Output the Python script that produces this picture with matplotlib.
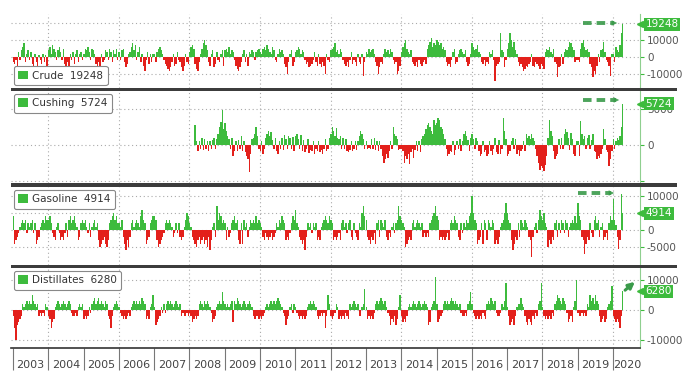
import matplotlib
matplotlib.use('Agg')
import matplotlib.pyplot as plt
from matplotlib.patches import Patch, Rectangle, FancyArrowPatch
from matplotlib.lines import Line2D
import matplotlib.transforms as mtransforms
import numpy as np

nan = np.nan

# weekly stock changes (kbbl / 1000), read every second week, one row per year
crude = [
    -3, -4, -2, -5, 3, -2, 4, 6, 8, -3, 2, 4, -2, 3, -4, -6, 2, -3, -5, 1, -2, -4, 2, -3, 1, -5,  # 2003
    4, 6, 2, 7, 5, 3, -2, 4, 6, 3, -2, 5, -4, -6, -3, -5, 2, -2, 3, -4, 2, 4, -3, 2, 3, -2,  # 2004
    2, 5, 4, 6, 3, -2, 5, 4, 2, -4, -5, -3, -6, 2, -3, -2, 4, 3, -2, 5, 3, -3, 4, 2, 5, -2,  # 2005
    3, -2, 4, 5, -3, -6, -4, 2, 3, 6, 8, 4, 7, -2, 3, 6, -3, 2, -5, -8, -2, 3, -4, 2, -3, 2,  # 2006
    2, -3, 3, 5, 6, 4, 2, -2, -4, -5, -7, -8, -6, -3, 2, -5, -4, 3, -2, -3, -6, -8, -5, 2, -3, -4,  # 2007
    3, 6, 7, 5, -4, -7, -8, -3, 2, 5, 8, 10, 7, 4, -3, -5, 2, 4, -6, -4, 3, -2, -3, 2, 4, -5,  # 2008
    4, 5, 3, 6, 2, 4, 3, -2, -5, -7, -8, -6, -3, 2, 4, -3, 2, -5, 3, 2, 4, 3, -2, 3, 4, 5,  # 2009
    3, 2, 5, 6, 4, 7, 5, 3, 2, 6, 4, -2, -3, 2, 5, 3, 4, 2, -4, -6, -10, -3, 2, 4, -5, -3,  # 2010
    3, 4, 6, 5, 2, 4, 3, -2, -4, -3, -6, -5, -4, -2, 3, -3, -5, 2, -4, -6, -3, -5, -10, 2, -2, -3,  # 2011
    4, 5, 6, 8, 3, 4, 2, 5, 3, -2, -4, -5, -3, -6, -2, 3, -4, -2, -3, -5, 2, -3, -4, 2, -11, -3,  # 2012
    3, 2, 5, 3, 4, 5, 2, -3, -5, -10, -6, -3, -4, 2, 5, 3, 4, 2, 5, 3, -2, -4, -3, -10, -8, -5,  # 2013
    3, 6, 8, 10, 5, 3, 2, 4, -3, -4, -5, -3, -6, -2, -4, -5, -3, -2, -4, 5, 7, 9, 11, 6, 8, 7,  # 2014
    10, 9, 7, 8, 5, 6, 4, -3, -5, -4, -6, -2, 3, 5, -4, -3, 2, 4, 5, 3, 2, 4, -3, -5, -4, 2,  # 2015
    8, 6, 4, 5, 7, 3, 2, -3, -4, -2, -5, -3, -4, 3, 2, 4, -2, -14, -5, -4, -3, 14, 4, 3, -6, -2,  # 2016
    5, 8, 14, 10, 6, 9, 4, 2, -3, -5, -4, -6, -8, -7, -5, -6, -4, -3, 2, -5, -6, -3, -4, -5, -7, -4,  # 2017
    -5, -7, 3, 5, 4, 6, 3, 2, 5, -3, -4, -12, -6, -5, 2, -4, 3, 5, 4, 6, 9, 8, 6, 4, -3, -2,  # 2018
    -2, -3, 5, 8, 10, 6, 4, 5, 3, -4, -6, -12, -8, -10, -5, 2, -3, 4, 5, 9, 3, -2, -3, -5, -11, 2,  # 2019
    2, -3, 6, 4, 3, 7, 14, 19.248,  # 2020
]

cushing = [
    nan, nan, nan, nan, 2.8, 0.5, -0.8, 0.6, -0.5, 1.0, -0.7, 0.8, -0.6, 0.5, -0.8, 0.6, -0.5, 0.7, 1.0, -0.6, 0.8, 1.5, 2.5, 3.2, 4.9, 2.2,  # 2008
    3.0, 2.0, 1.2, 0.8, -0.5, 0.9, -1.5, -0.8, 0.6, -0.9, 0.7, -0.6, 1.2, -0.8, 0.5, -1.0, -1.5, -2.0, -3.7, -1.2, 0.8, 1.0, 1.5, 2.5, 1.2, -0.6,  # 2009
    -0.8, 0.6, -1.2, -0.5, 0.9, 1.5, 2.0, 1.2, 1.8, 0.7, -0.6, 0.9, -0.8, -1.2, 0.6, -0.5, 1.0, -0.7, 1.4, 0.8, -0.6, 1.2, 0.9, -0.5, 1.1, -0.8,  # 2010
    1.2, 1.5, 0.8, -0.6, 1.4, -0.9, 0.7, -1.0, -0.6, 0.8, -1.1, -0.7, -0.9, 0.5, -1.2, -0.6, -0.8, 0.6, -1.0, -0.7, -1.2, -0.5, 0.8, -0.9, -0.6, 1.0,  # 2011
    1.5, 2.5, 2.0, 1.2, 2.3, 1.0, 0.8, 1.2, -0.5, 1.0, -0.6, 0.8, -0.9, -1.0, -0.7, 0.6, -0.8, -0.5, 0.6, -0.7, 0.5, 1.2, 2.0, 1.5, 0.8, -0.5,  # 2012
    0.6, -0.5, -0.4, -0.6, 0.8, -0.5, 0.9, -0.7, 0.6, -0.8, 0.5, -0.6, -1.5, -2.5, -2.0, -1.2, -1.8, -0.8, 0.6, -0.5, 2.5, 1.5, 1.2, 0.8, -0.7, -0.5,  # 2013
    -0.6, -0.8, -2.5, -1.5, -2.0, -1.2, -2.6, -1.0, -0.5, -1.8, -0.7, 0.5, -0.8, 0.6, -1.0, 0.8, 1.2, 1.5, 2.2, 2.8, 3.0, 2.5, 2.0, 1.5, 3.5, 2.8,  # 2014
    3.0, 3.8, 3.5, 2.5, 2.2, 1.5, 0.8, -0.5, -1.5, -1.2, -0.8, -1.0, 0.6, -1.4, -0.7, 0.5, -0.6, 0.8, -0.9, 0.6, 1.5, 2.0, 1.2, 0.7, -0.8, 1.0,  # 2015
    1.5, 0.8, -0.6, 1.0, 0.5, -0.8, -1.5, -1.2, 0.6, -1.0, -0.7, -1.5, -1.2, 0.5, -0.8, -1.4, -0.6, 0.9, -1.0, -1.3, 0.7, -1.2, -0.6, 3.8, 2.0, 0.8,  # 2016
    -1.5, -1.2, -0.8, 0.6, 0.9, -0.5, 0.8, -1.2, -0.7, -1.5, -0.9, -0.6, 0.5, -0.8, 1.5, 1.0, 1.2, 0.8, 1.5, 1.0, 0.6, -0.5, -1.5, -2.5, -3.5, -3.0,  # 2017
    -3.2, -3.6, -2.8, -1.5, 1.0, 3.5, 2.0, 1.2, -0.8, -2.0, -1.6, -1.2, 0.8, -0.6, 1.0, -0.5, 1.5, 2.2, 1.8, 0.9, -0.7, 1.6, 0.8, -1.2, -1.5, 0.6,  # 2018
    0.6, -1.5, 3.3, 1.5, 0.8, 1.2, -0.5, 0.9, 1.4, -0.6, 0.7, 1.5, -0.8, -1.0, -2.0, -1.5, -1.8, -1.2, -0.6, 2.2, 0.8, -0.7, -1.0, -3.0, -2.0, -0.8,  # 2019
    0.8, -0.5, 0.6, 1.0, 0.7, 1.2, 2.5, 5.724,  # 2020
]

gasoline = [
    4, -4, -3, -2, -1, 1, 2, 3, 2, 3, -1, 2, 1, 2, 3, -1, 2, -4, -3, -2, 1, 2, 3, 2, 4, 3,  # 2003
    3, 4, 2, -1, -2, -3, 1, 2, -1, -3, -2, -3, -1, 2, -2, 3, 4, 2, 3, 4, 2, 1, -3, -2, 2, 3,  # 2004
    2, 3, 1, -1, 2, -2, 1, 2, 3, 1, 2, -3, -5, -4, -3, -2, -4, -5, -3, 2, 3, 4, 5, 3, 4, 2,  # 2005
    2, 1, 3, -2, -4, -6, -3, -5, -2, 2, 3, 1, 2, 3, 2, 1, 4, 6, 3, 2, -4, -3, -2, 2, 3, 4,  # 2006
    4, 3, -3, -5, -4, -3, -2, -1, 2, 3, 2, 3, 2, 1, -2, -1, 2, -1, 2, -2, -3, -2, 1, 3, 5, 4,  # 2007
    2, 1, -2, -3, -4, -5, -3, -2, -4, -3, -2, -4, -3, -5, -2, -6, -3, 1, 2, -2, 7, 3, 5, 4, 2, 3,  # 2008
    2, -3, 1, -2, -1, 2, 3, 4, 2, 3, -3, -4, 2, -4, 3, 1, 2, -2, 1, 3, 2, 3, 2, 4, 2, 3,  # 2009
    2, 1, -2, -3, -1, -2, -3, -2, -1, -3, -2, -1, 2, 1, 3, 2, 4, 3, 2, -3, -2, -3, -1, 2, 4, 3,  # 2010
    6, 2, 1, -2, -3, -4, -3, -6, -2, 2, 1, 2, -1, 2, 1, 2, -3, -2, -3, 1, 2, 3, 4, 3, 2, 4,  # 2011
    3, 2, -3, -2, -3, -2, -1, -3, 2, 3, 1, 2, -1, 2, 3, -2, -3, 2, -1, -2, -3, 2, 1, 5, 7, 4,  # 2012
    3, -2, -3, -4, -2, -3, -1, -4, 2, 3, -2, 3, 2, 1, 3, -2, -3, -1, -2, 1, 2, -1, 2, 3, 7, 4,  # 2013
    3, 2, 1, -5, -4, -3, -2, -3, 2, 3, 1, 2, 3, 2, 1, 2, -2, -1, -2, -1, -2, 2, 3, 4, 5, 7,  # 2014
    4, 3, -3, -2, -3, -2, -3, -2, -1, -3, 2, 3, 2, 4, 3, 2, -2, -3, 2, -1, 2, 1, 3, 2, 4, 5,  # 2015
    10, 5, 3, 2, -4, -3, -2, 2, -4, 3, 2, -3, 3, 2, 1, 3, 2, -4, -3, -4, -2, 1, 2, 3, 5, 8,  # 2016
    5, 3, 2, -3, -6, -4, -2, -3, 2, -2, 3, 2, 1, 3, 2, 1, -2, -3, -8, -2, 1, 2, -1, 3, 6, 4,  # 2017
    3, 5, 2, 1, -5, -3, -4, -2, -3, 2, 3, -2, 2, -1, 3, 2, -1, 3, 2, -2, 1, 2, 3, 2, 4, 2,  # 2018
    8, 4, 3, -2, -3, -7, -4, -2, -3, 2, -1, -2, 3, 4, 2, 3, -2, 1, 2, -3, -2, -1, -3, 2, 4, 3,  # 2019
    9, 3, 1.5, -2, -5.5, -3, 10.5, 4.914,  # 2020
]

distillates = [
    -2, -6, -10, -5, -4, -3, -2, 2, 1, 2, 3, 2, 3, 2, 5, 3, 2, 1, 2, -2, -1, -2, -1, -2, 2, 1,  # 2003
    -2, -3, -6, -4, -3, 1, 2, 3, 2, 1, 2, 3, 2, 1, 2, 3, 2, -1, -2, -2, -1, -2, 1, 2, 1, 2,  # 2004
    -3, -2, -3, -2, 1, -1, 2, 3, 4, 2, 3, 4, 2, 3, 2, 1, 3, 2, -2, -3, -6, -2, 1, 2, 3, 2,  # 2005
    1, -1, -2, -3, -2, -3, -2, -1, -2, 1, 2, 3, 2, 3, 2, 3, 2, 4, 3, 2, -3, -2, -3, 1, 2, 5,  # 2006
    1, -5, -4, -3, -2, 1, -1, 2, -1, 2, 3, 2, 3, 2, 1, 2, 3, 2, 1, 2, -2, -1, -2, -2, -1, -2,  # 2007
    -1, -2, -4, -3, -2, -3, -2, 2, 3, 2, 1, 3, 2, 3, 2, 1, -1, -4, -3, -2, 1, 2, 3, 2, 6, 3,  # 2008
    2, 1, 2, 1, 2, 3, -4, 3, 2, 4, 3, 2, 1, 2, 3, 2, 1, 2, 3, 2, 1, -2, -3, -2, -2, -3,  # 2009
    -2, -3, -2, -1, 1, 2, 1, 2, 3, 2, 3, 2, 3, 4, 3, 2, 1, -1, -2, -5, -3, -2, 1, 2, -1, 2,  # 2010
    1, -1, -2, -3, -2, -3, -2, -3, -2, 1, 2, 3, 2, 3, 2, 1, -2, -3, -2, -1, -2, -1, -6, -2, 5, 2,  # 2011
    -2, -3, -2, -1, 2, 1, -3, -2, -3, -2, -3, -1, -2, -3, 2, 1, 2, 3, 2, 1, 2, -2, -2, 1, 2, 7,  # 2012
    1, -3, -2, -3, -2, -3, -1, 2, 3, 2, 3, 4, 3, 2, 3, 1, -1, -2, -5, -3, -4, -2, -5, -3, 1, 5,  # 2013
    -2, -4, -3, -4, -2, 1, 2, 1, 2, 3, 2, 1, 2, 3, 2, 1, 2, 3, 2, 1, -5, -4, 1, 2, 3, 11,  # 2014
    2, -4, -3, -2, -1, 2, 3, 2, 3, 2, 3, 4, 3, 2, 3, 2, 1, 2, -1, -2, -2, -1, -2, 2, 3, 6,  # 2015
    2, -1, -2, -3, -2, -3, -2, -3, -1, -2, -3, 2, 3, 2, 4, 3, 2, 3, -1, -2, -2, -1, 2, 1, 3, 9,  # 2016
    1, -2, -5, -4, -3, -5, -2, 1, 2, 2, 4, 2, 1, -2, -4, -5, -3, -4, -5, -2, -3, -1, -2, 2, 3, 9,  # 2017
    1, -2, -3, -2, -3, -2, -3, -1, -2, 2, 3, 5, 4, 3, 2, 4, 3, 2, -1, -4, -3, -2, -4, 1, 3, 10,  # 2018
    -1, -2, -2, -1, -2, -1, -2, 2, 1, 5, 3, 4, 2, 5, 3, 2, -2, -4, -3, -2, -4, -3, 1, 2, 3, 8,  # 2019
    -2, -3, -4, -3, -4, -6, -2, 6.28,  # 2020
]

names = ['Crude', 'Cushing', 'Gasoline', 'Distillates']
last_vals = ['19248', '5724', '4914', '6280']
start_years = [2003, 2008, 2003, 2003]
year_labels = [str(y) for y in range(2003, 2021)]

GREEN = '#3dbb3d'
RED = '#e3201b'
ARROW = '#3a9a4a'
W, H = 692, 392


def xpos(start, n):
    k = np.arange(n)
    return start + k // 26 + (3 + 14 * (k % 26)) / 365.25


fig = plt.figure(figsize=(6.92, 3.92), dpi=100)
X0, X1 = 11, 640
xlim = (2003 - 2 / 35.3, 2020 + 27 / 35.3)

# top px, bottom px, ylim, ticks, tick labels, legend loc
layout = [
    (14, 88, (-18200, 25300), [-10000, 0, 10000, 20000], ['-10000', '0', '10000', ''], 'lower left'),
    (91, 183, (-5300, 7500), [-5000, 0, 5000], ['', '0', '5000'], 'upper left'),
    (187, 265, (-10300, 12650), [-5000, 0, 5000, 10000], ['-5000', '0', '', '10000'], 'upper left'),
    (268, 348, (-12670, 14000), [-10000, 0, 10000], ['-10000', '0', '10000'], 'upper left'),
]

series = [crude, cushing, gasoline, distillates]
axes = []
for i, (top, bot, yl, ticks, tlabels, loc) in enumerate(layout):
    ax = fig.add_axes([X0 / W, 1 - bot / H, (X1 - X0) / W, (bot - top) / H])
    axes.append(ax)
    vals = np.array(series[i], dtype=float) * 1000
    x = xpos(start_years[i], len(vals))
    ok = ~np.isnan(vals)
    cols = np.where(vals[ok] >= 0, GREEN, RED)
    ax.bar(x[ok], vals[ok], width=0.039, color=cols, linewidth=0, zorder=2)
    ax.set_xlim(*xlim)
    ax.set_ylim(*yl)
    ax.yaxis.tick_right()
    ax.set_yticks(ticks)
    ax.set_yticklabels(tlabels)
    ax.tick_params(axis='y', length=3, width=0.8, color=GREEN, labelsize=7.5,
                   labelcolor='#555555', pad=2)
    ax.grid(axis='y', color='#aaaaaa', ls=(0, (1, 2.5)), lw=0.8)
    ax.set_axisbelow(True)
    for yr in range(2004, 2021, 2):
        ax.axvline(yr, color='#aaaaaa', ls=(0, (1, 2.5)), lw=0.8, zorder=0)
    for s in ['left', 'top', 'bottom']:
        ax.spines[s].set_visible(False)
    ax.spines['right'].set_color('#8fcf8f')
    ax.set_xticks([])

    leg = ax.legend(handles=[Patch(facecolor=GREEN)],
                    labels=[names[i] + '  ' + last_vals[i]], loc=loc,
                    fontsize=7.5, handlelength=0.9, handleheight=0.9,
                    handletextpad=0.4, borderpad=0.45, borderaxespad=0.25,
                    fancybox=True, framealpha=1, edgecolor='#888888')
    leg.get_frame().set_linewidth(0.8)
    for t in leg.get_texts():
        t.set_color('#333333')

    # last value tag on the right axis
    last = vals[-1]
    trans = mtransforms.blended_transform_factory(ax.transAxes, ax.transData)
    ax.annotate(last_vals[i], xy=(1.0, last), xycoords=trans, xytext=(4, 0),
                textcoords='offset points', ha='left', va='center', fontsize=7.5,
                color='white', annotation_clip=False, zorder=5,
                bbox=dict(boxstyle='square,pad=0.15', fc=GREEN, ec='none'))
    ax.plot([1.0], [last], marker='<', ms=5, color=GREEN, transform=trans,
            clip_on=False, zorder=5)

# bottom axis with years
ax4 = axes[-1]
ax4.spines['bottom'].set_visible(True)
ax4.spines['bottom'].set_color('#333333')
ax4.spines['bottom'].set_linewidth(1.2)
ax4.set_xticks(range(2003, 2021))
ax4.set_xticklabels([])
ax4.tick_params(axis='x', which='major', length=15.5, width=0.8, color='#777777')
ax4.set_xticks([y + 0.5 for y in range(2003, 2020)] + [2020.4], minor=True)
ax4.set_xticklabels(year_labels, minor=True)
ax4.tick_params(axis='x', which='minor', length=0, pad=9, labelsize=8,
                labelcolor='#444444')

# dark separators between panels
for y0, h in [(88, 3), (183, 4), (265, 3)]:
    fig.add_artist(Rectangle((X0 / W, 1 - (y0 + h) / H), (677 - X0) / W, h / H,
                             transform=fig.transFigure, color='#3c3c3c', lw=0))

# dashed green arrows pointing at the latest week
for xa, xb, y in [(583, 620, 23), (583, 622, 100), (578, 617, 193)]:
    fig.add_artist(Line2D([xa / W, (xb - 6) / W], [1 - y / H, 1 - y / H],
                          transform=fig.transFigure, color=ARROW, lw=2.8,
                          ls=(0, (2.2, 1.3)), alpha=0.9))
    fig.add_artist(FancyArrowPatch(((xb - 9) / W, 1 - y / H), (xb / W, 1 - y / H),
                                   transform=fig.transFigure, arrowstyle='-|>',
                                   mutation_scale=10, color=ARROW, lw=0, alpha=0.9))
fig.add_artist(FancyArrowPatch((623 / W, 1 - 292 / H), (637 / W, 1 - 280 / H),
                               transform=fig.transFigure, arrowstyle='-|>',
                               mutation_scale=9, color=ARROW, lw=2.2))

plt.savefig('out.png', dpi=100)
